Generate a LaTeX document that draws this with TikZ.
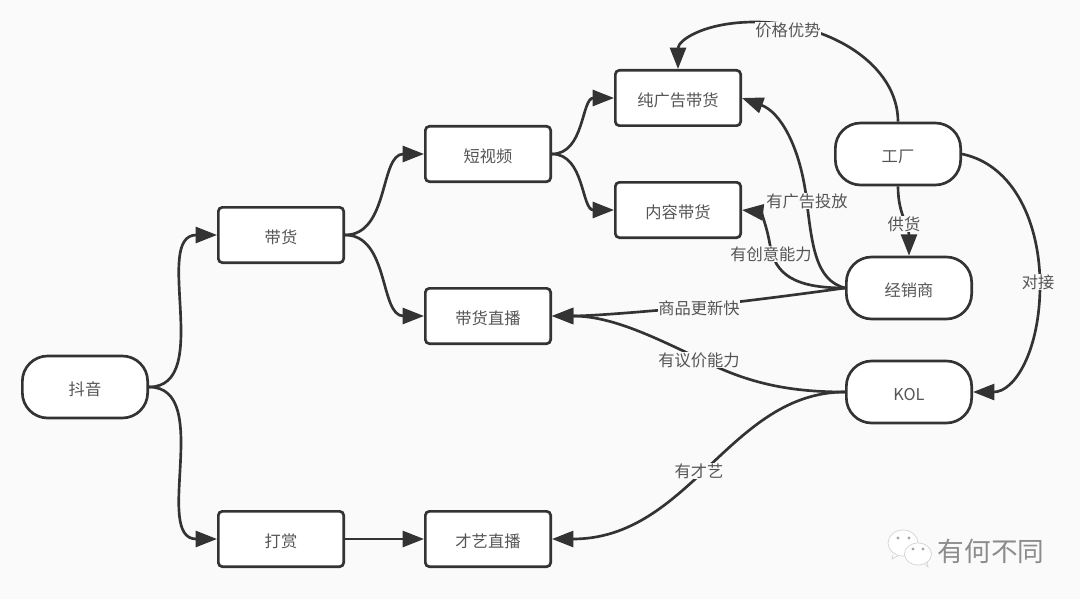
\documentclass[tikz,border=0pt]{standalone}
\usepackage{fontspec}
\setmainfont{Noto Sans CJK SC}
\usetikzlibrary{arrows.meta}
\definecolor{ink}{HTML}{333333}
\definecolor{word}{HTML}{555555}
\definecolor{paper}{HTML}{FAFAFA}
\tikzset{
  box/.style={draw=ink, fill=white, line width=2pt, rounded corners=3pt, minimum width=94pt, minimum height=41.5pt, text=word, font=\fontsize{12.2}{14}\selectfont, inner sep=0pt, text height=13pt, text depth=0pt},
  pill/.style={box, rounded corners=19pt, minimum height=46.5pt},
  tag/.style={fill=paper, text=word, font=\fontsize{12.2}{14}\selectfont, inner sep=0.5pt},
  flow/.style={draw=ink, line width=2pt, -{Triangle[length=16pt,width=12pt]}},
  bubble/.style={fill=white, draw=black!18, line width=0.5pt},
}
\begin{document}
\begin{tikzpicture}[x=0.75pt, y=-0.75pt]
  \fill[paper] (0,0) rectangle (1080,599);
  \useasboundingbox (0,0) rectangle (1080,599);
  % left part
  \node[pill] (douyin) at (85,387) {抖音};
  \node[box] (sell) at (281,235) {带货};
  \node[box] (tip) at (281,539) {打赏};
  \node[box] (clip) at (488,154) {短视频};
  \node[box] (live) at (488,316) {带货直播};
  \node[box] (show) at (488,539) {才艺直播};
  \node[box] (adsell) at (678,98) {纯广告带货};
  \node[box] (mixsell) at (678,210) {内容带货};
  % right part
  \node[pill] (factory) at (898,154) {工厂};
  \node[pill] (dealer) at (909,288) {经销商};
  \node[pill] (kol) at (909,392) {KOL};

  \path[every edge/.style={flow}]
  (douyin.east) edge[out=0, in=180] (sell.west)
  (douyin.east) edge[out=0, in=180] (tip.west)
  (sell.east) edge[out=0, in=180] (clip.west)
  (sell.east) edge[out=0, in=180] (live.west)
  (clip.east) edge[out=0, in=180] (adsell.west)
  (clip.east) edge[out=0, in=180] (mixsell.west)
  (tip.east) edge (show.west)
  ;
  \draw[flow] (factory.north) .. controls (898,65) and (830,22) .. (755,22) .. controls (705,22) and (678,40) .. (adsell.north);
  \draw[flow] (dealer.west) .. controls (815,280) and (812,245) .. (806,195) .. controls (799,145) and (780,112) .. (adsell.east);
  \draw[flow] (dealer.west) .. controls (795,288) and (775,275) .. (770,245) .. controls (766,222) and (760,212) .. (mixsell.east);
  \draw[flow] (dealer.west) .. controls (780,297) and (700,307) .. (650,311) .. controls (615,314) and (585,316) .. (live.east);
  \draw[flow] (kol.west) .. controls (785,392) and (745,382) .. (698,358) .. controls (650,335) and (610,316) .. (live.east);
  \draw[flow] (kol.west) .. controls (730,392) and (690,539) .. (show.east);
  \draw[flow] (factory.south) .. controls (898,215) and (909,225) .. (dealer.north);
  \draw[flow] (factory.east) .. controls (1015,165) and (1040,225) .. (1040,285) .. controls (1040,350) and (1015,392) .. (kol.east);

  \node[tag] (lprice) at (788,30) {价格优势};
  \node[tag] (lad) at (807,201) {有广告投放};
  \node[tag] (lidea) at (771,254) {有创意能力};
  \node[tag] (lfresh) at (699,308) {商品更新快};
  \node[tag] (lbargain) at (699,360) {有议价能力};
  \node[tag] (ltalent) at (699,471) {有才艺};
  \node[tag] (lsupply) at (904,224) {供货};
  \node[tag] (llink) at (1038,282) {对接};

  % watermark
  \draw[bubble] (893,555) -- (892,559) -- (899,555);
  \draw[bubble] (903,543) ellipse (15 and 13);
  \draw[bubble] (924,563) -- (928,567) -- (927,560);
  \draw[bubble] (918,554) ellipse (13.5 and 11);
  \foreach \dx/\dy in {898/538, 909/538, 913/549, 923/549}
    \fill[black!35] (\dx,\dy) circle (1.6);
  \node[text=black!45, font=\fontsize{20}{22}\selectfont, inner sep=0pt] (mark) at (991,551) {有何不同};
\end{tikzpicture}
\end{document}
